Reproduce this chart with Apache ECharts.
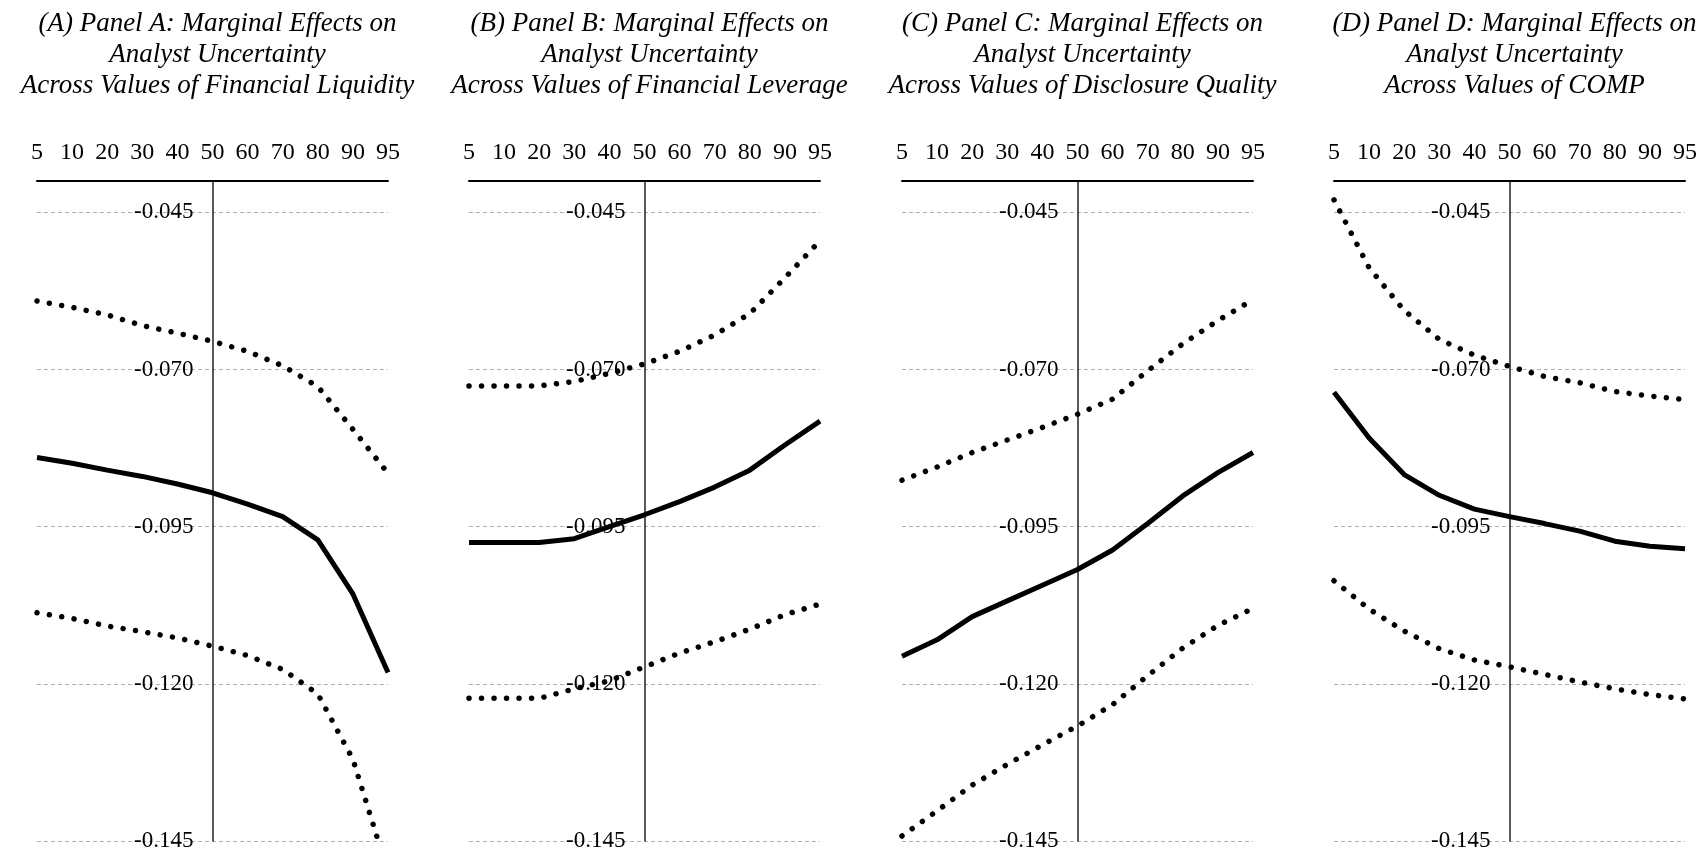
<!DOCTYPE html>
<html lang="en">
<head>
    <meta charset="UTF-8">
    <script src="https://cdn.jsdelivr.net/npm/echarts@6/dist/echarts.min.js"></script>
    <style>
        body { margin: 0; background: #fff; }
    </style>
</head>
<body>
<div id="chart" style="width: 1706px;height: 855px"></div>
<script>
    // percentiles of the moderating variable
    var categories = ['5', '10', '20', '30', '40', '50', '60', '70', '80', '90', '95'];
    var yTicks = [-0.145, -0.120, -0.095, -0.070, -0.045];

    var titles = [
        '(A) Panel A: Marginal Effects on\nAnalyst Uncertainty\nAcross Values of Financial Liquidity',
        '(B) Panel B: Marginal Effects on\nAnalyst Uncertainty\nAcross Values of Financial Leverage',
        '(C) Panel C: Marginal Effects on\nAnalyst Uncertainty\nAcross Values of Disclosure Quality',
        '(D) Panel D: Marginal Effects on\nAnalyst Uncertainty\nAcross Values of COMP'
    ];

    // Panel A - financial liquidity
    var liqEffect = [-0.0840, -0.0849, -0.0860, -0.0870, -0.0882, -0.0896, -0.0914, -0.0934, -0.0971, -0.1057, -0.1182];
    var liqUpper = [-0.0591, -0.0601, -0.0613, -0.0630, -0.0642, -0.0655, -0.0671, -0.0694, -0.0727, -0.0795, -0.0865];
    var liqLower = [-0.1087, -0.1096, -0.1108, -0.1117, -0.1127, -0.1140, -0.1155, -0.1177, -0.1216, -0.1320, -0.1500];

    // Panel B - financial leverage
    var levEffect = [-0.0975, -0.0975, -0.0975, -0.0969, -0.0950, -0.0931, -0.0910, -0.0887, -0.0860, -0.0820, -0.0782];
    var levUpper = [-0.0726, -0.0726, -0.0726, -0.0719, -0.0706, -0.0691, -0.0671, -0.0645, -0.0611, -0.0554, -0.0495];
    var levLower = [-0.1223, -0.1223, -0.1223, -0.1208, -0.1195, -0.1173, -0.1151, -0.1133, -0.1113, -0.1090, -0.1073];

    // Panel C - disclosure quality
    var disEffect = [-0.1156, -0.1130, -0.1093, -0.1068, -0.1043, -0.1018, -0.0987, -0.0945, -0.0901, -0.0864, -0.0832];
    var disUpper = [-0.0876, -0.0855, -0.0832, -0.0812, -0.0792, -0.0771, -0.0747, -0.0702, -0.0659, -0.0622, -0.0589];
    var disLower = [-0.1442, -0.1402, -0.1361, -0.1328, -0.1297, -0.1267, -0.1233, -0.1187, -0.1143, -0.1107, -0.1080];

    // Panel D - COMP
    var compEffect = [-0.0736, -0.0809, -0.0867, -0.0900, -0.0922, -0.0934, -0.0945, -0.0957, -0.0973, -0.0981, -0.0985];
    var compUpper = [-0.0430, -0.0538, -0.0606, -0.0652, -0.0677, -0.0695, -0.0711, -0.0721, -0.0735, -0.0742, -0.0748];
    var compLower = [-0.1036, -0.1081, -0.1116, -0.1144, -0.1162, -0.1173, -0.1185, -0.1197, -0.1208, -0.1217, -0.1224];

    var panels = [
        [liqEffect, liqUpper, liqLower],
        [levEffect, levUpper, levLower],
        [disEffect, disUpper, disLower],
        [compEffect, compUpper, compLower]
    ];

    var lefts = [37, 469, 902, 1334];
    var plotWidth = 351;
    var serif = "'Liberation Serif', 'Times New Roman', serif";

    var option = {
        animation: false,
        backgroundColor: '#fff',
        title: [],
        grid: [],
        xAxis: [],
        yAxis: [],
        series: []
    };

    for (var i = 0; i < 4; i++) {
        var mid = lefts[i] + plotWidth / 2;
        option.title.push({
            text: titles[i],
            left: mid,
            top: 3,
            textAlign: 'center',
            textStyle: {
                fontFamily: serif,
                fontStyle: 'italic',
                fontWeight: 'normal',
                fontSize: 27,
                lineHeight: 31,
                color: '#000'
            }
        });
        option.grid.push({
            left: lefts[i],
            width: plotWidth,
            top: 181,
            bottom: 14,
            containLabel: false,
            outerBoundsMode: 'none'
        });
        option.xAxis.push({
            type: 'category',
            gridIndex: i,
            position: 'top',
            boundaryGap: false,
            data: categories,
            axisLine: {lineStyle: {color: '#000', width: 2}},
            axisTick: {show: false},
            splitLine: {show: false},
            axisLabel: {
                color: '#000',
                fontFamily: serif,
                fontSize: 24,
                margin: 16,
                interval: 0
            }
        });
        option.yAxis.push({
            type: 'value',
            gridIndex: i,
            min: -0.145,
            max: -0.040,
            offset: -plotWidth / 2,
            axisLine: {show: true, lineStyle: {color: '#222', width: 1.5}},
            axisTick: {show: false, customValues: yTicks},
            axisLabel: {
                customValues: yTicks,
                color: '#000',
                fontFamily: serif,
                fontSize: 23,
                margin: 19,
                formatter: function (v) {
                    return v.toFixed(3);
                }
            },
            splitLine: {
                show: true,
                lineStyle: {color: '#b0b0b0', width: 1, type: [4, 3]}
            }
        });

        var p = panels[i];
        option.series.push({
            type: 'line',
            xAxisIndex: i,
            yAxisIndex: i,
            data: p[0],
            symbol: 'none',
            lineStyle: {color: '#000', width: 5}
        });
        for (var k = 1; k < 3; k++) {
            option.series.push({
                type: 'line',
                xAxisIndex: i,
                yAxisIndex: i,
                data: p[k],
                symbol: 'none',
                lineStyle: {color: '#000', width: 5.5, type: [0.01, 12.5], cap: 'round'}
            });
        }
    }

    var mychart = echarts.init(document.getElementById('chart'));
    mychart.setOption(option);
</script>
</body>
</html>
